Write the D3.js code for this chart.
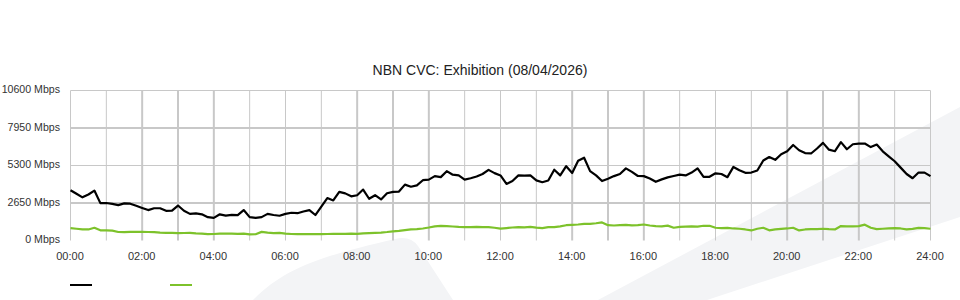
<!DOCTYPE html>
<html>
<head>
<meta charset="utf-8">
<script src="https://cdn.jsdelivr.net/npm/d3@7"></script>
<style>
  html, body { margin: 0; padding: 0; background: #fff; }
  svg { display: block; font-family: "Liberation Sans", Arial, sans-serif; }
</style>
</head>
<body>
<script>
// ---- data ----
const title = "NBN CVC: Exhibition (08/04/2026)";
const stepMinutes = 10;
const yTicks = [0, 2650, 5300, 7950, 10600];
const xTickLabels = ["00:00","02:00","04:00","06:00","08:00","10:00","12:00","14:00","16:00","18:00","20:00","22:00","24:00"];
const seriesNames = ["", ""];
const seriesColors = ["#000000", "#7dc22b"];
const inbound = [
  3550,3300,3050,3250,3530,2640,2650,2590,2500,2620,2600,2450,
  2300,2150,2280,2280,2100,2110,2470,2100,1880,1920,1850,1650,
  1600,1850,1760,1815,1790,2150,1650,1600,1650,1880,1800,1750,
  1880,1960,1930,2050,2150,1800,2400,3000,2830,3440,3330,3120,
  3200,3600,2950,3200,2900,3340,3440,3460,3950,3800,3900,4260,
  4300,4550,4480,4900,4650,4600,4300,4400,4520,4700,4990,4760,
  4600,4000,4200,4600,4590,4600,4250,4120,4240,5000,4600,5250,
  4770,5630,5850,4900,4600,4200,4360,4550,4700,5100,4850,4560,
  4550,4380,4150,4320,4460,4560,4650,4600,4800,5100,4500,4500,
  4750,4700,4475,5200,4970,4780,4800,4950,5650,5900,5700,6100,
  6300,6750,6380,6180,6150,6500,6900,6420,6310,6950,6450,6800,
  6840,6850,6600,6780,6300,5950,5600,5150,4700,4400,4800,4800,
  4550
];
const outbound = [
  870,830,790,780,900,720,720,700,600,590,610,610,
  610,600,590,560,540,540,520,530,540,500,480,450,
  460,480,490,480,470,490,430,440,610,560,520,540,
  480,460,450,450,450,450,450,460,470,470,470,480,
  470,500,520,540,560,600,650,680,730,780,800,850,
  920,1000,1030,1010,990,960,950,950,960,950,940,900,
  840,880,920,950,930,960,910,880,940,950,1000,1080,
  1110,1130,1180,1180,1220,1280,1080,1060,1080,1100,1070,1080,
  1130,1060,1010,1000,1050,900,960,980,1000,980,1040,1040,
  900,880,890,850,830,780,710,830,900,720,780,820,
  850,900,710,780,800,800,830,800,780,1020,1000,1000,
  1020,1120,900,800,830,850,870,850,790,820,890,870,
  830
];
const series = [inbound, outbound];

// ---- layout ----
const W = 960, H = 300;
const plot = { left: 70, right: 930, top: 90, bottom: 240 };

const svg = d3.select("body").append("svg").attr("width", W).attr("height", H);

// background watermark shapes
const wm = svg.append("g").attr("fill", "#f3f4f6");
wm.append("path").attr("d", "M253,300 C285,268 318,257 395,239 Q410,235 418,246 L453,300 Z");
wm.append("path").attr("d", "M598,300 L960,107 L960,217 L707,300 Z");

const x = d3.scaleLinear().domain([0, 1440]).range([plot.left, plot.right]);
const y = d3.scaleLinear().domain([0, 10600]).range([plot.bottom, plot.top]);

const g = svg.append("g").attr("transform", "translate(0.5,0.5)");
const gridW = p => (Math.abs((p % 1) - 0.5) < 0.2 ? 2 : 1);

// horizontal grid
g.append("g").selectAll("line").data(yTicks.filter(v => v > 0)).join("line")
  .attr("x1", plot.left).attr("x2", plot.right)
  .attr("y1", d => y(d)).attr("y2", d => y(d))
  .attr("stroke", "#c8c8c8").attr("stroke-width", d => gridW(y(d)));

// vertical grid (hourly)
g.append("g").selectAll("line").data(d3.range(0, 25)).join("line")
  .attr("x1", d => x(d * 60)).attr("x2", d => x(d * 60))
  .attr("y1", plot.top).attr("y2", plot.bottom)
  .attr("stroke", "#c8c8c8").attr("stroke-width", d => gridW(x(d * 60)));

// series lines
const line = d3.line().x((d, i) => x(i * stepMinutes)).y(d => y(d));
series.forEach((s, k) => {
  g.append("path").datum(s)
    .attr("fill", "none").attr("stroke", seriesColors[k])
    .attr("stroke-width", 2.2).attr("stroke-linejoin", "round")
    .attr("d", line);
});

// y axis labels
svg.append("g").selectAll("text").data(yTicks).join("text")
  .attr("x", 60).attr("y", d => y(d) + 3)
  .attr("text-anchor", "end").attr("font-size", 10.6).attr("fill", "#333")
  .text(d => d + " Mbps");

// x axis labels
svg.append("g").selectAll("text").data(xTickLabels).join("text")
  .attr("x", (d, i) => x(i * 120)).attr("y", 260)
  .attr("text-anchor", "middle").attr("font-size", 11).attr("fill", "#333")
  .text(d => d);

// title
svg.append("text").attr("x", W / 2).attr("y", 75)
  .attr("text-anchor", "middle").attr("font-size", 14).attr("fill", "#222")
  .text(title);

// legend
const leg = svg.append("g");
seriesColors.forEach((c, k) => {
  const lx = plot.left + k * 100;
  leg.append("line").attr("x1", lx).attr("x2", lx + 22)
    .attr("y1", 285).attr("y2", 285)
    .attr("stroke", c).attr("stroke-width", 2);
  leg.append("text").attr("x", lx + 28).attr("y", 289)
    .attr("font-size", 11).attr("fill", "#333").text(seriesNames[k]);
});
</script>
</body>
</html>
